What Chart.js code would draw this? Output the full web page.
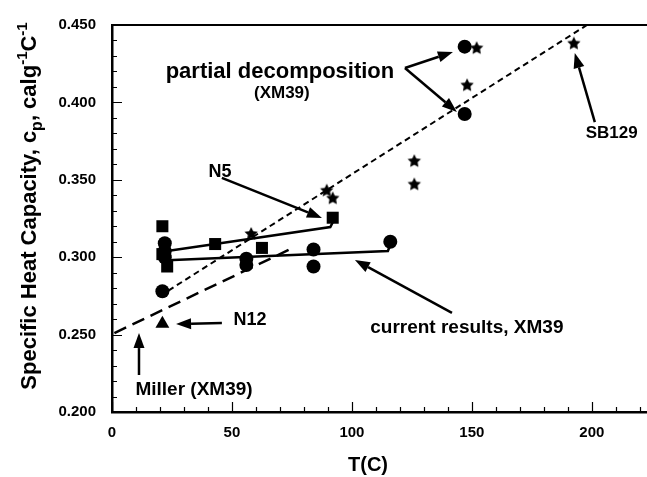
<!DOCTYPE html>
<html>
<head>
<meta charset="utf-8">
<script src="https://cdn.jsdelivr.net/npm/chart.js@4.4.1/dist/chart.umd.min.js"></script>
<style>
  html, body { margin:0; padding:0; background:#fff; }
  canvas { display:block; }
</style>
</head>
<body>
<canvas id="cpChart" width="647" height="477"></canvas>
<script>
// current results, XM39 (circles)
const circleT  = [21, 22, 22, 22, 56, 56, 84, 84, 116, 147, 147];
const circleCp = [0.278, 0.309, 0.304, 0.300, 0.299, 0.295, 0.305, 0.294, 0.310, 0.436, 0.3925];
// N5 (squares)
const squareT  = [21, 21, 23, 43, 62.5, 92];
const squareCp = [0.320, 0.302, 0.294, 0.3085, 0.306, 0.3255];
// stars, incl. SB129
const starT  = [58, 89.5, 92, 126, 126, 148, 152, 192.5];
const starCp = [0.315, 0.343, 0.338, 0.362, 0.347, 0.411, 0.435, 0.438];
// N12 (triangle)
const triT  = [21];
const triCp = [0.257];

// fitted lines
const decompT  = [20, 198];
const decompCp = [0.275, 0.450];
const millerT  = [1, 74];
const millerCp = [0.251, 0.305];
const n5T  = [23, 43, 91, 92.5];
const n5Cp = [0.304, 0.3085, 0.3195, 0.324];
const xm39T  = [23, 115, 116];
const xm39Cp = [0.298, 0.304, 0.308];

// axes
const xTicks = [0, 50, 100, 150, 200];
const yTicks = [0.200, 0.250, 0.300, 0.350, 0.400, 0.450];

const FONT = '"Liberation Sans", Arial, Helvetica, sans-serif';

const pts = (xs, ys) => xs.map((x, i) => ({x: x, y: ys[i]}));

// filled five-point star used as point style
function makeStar(r){
  const c = document.createElement('canvas');
  c.width = c.height = r * 2 + 2;
  const g = c.getContext('2d');
  g.translate(r + 1, r + 1);
  g.beginPath();
  for(let i = 0; i < 10; i++){
    const rr = i % 2 ? r * 0.5 : r;
    const a = -Math.PI / 2 + i * Math.PI / 5;
    g.lineTo(rr * Math.cos(a), rr * Math.sin(a));
  }
  g.closePath();
  g.fillStyle = '#000';
  g.fill();
  return c;
}
const starImg = makeStar(7);

// labels and arrows, in data units
const labels = [
  {text:'partial decomposition', x:70, y:0.4196, font:'bold 22px'},
  {text:'(XM39)', x:70.8, y:0.4061, font:'bold 17px'},
  {text:'SB129', x:208.3, y:0.3802, font:'bold 17px'},
  {text:'N5', x:45, y:0.355, font:'bold 18px'},
  {text:'current results, XM39', x:147.9, y:0.2543, font:'bold 19px'},
  {text:'N12', x:57.5, y:0.2594, font:'bold 18px'},
  {text:'Miller (XM39)', x:34.2, y:0.2142, font:'bold 19px'}
];
const arrows = [
  [122.1, 0.4222, 142.1, 0.4326],
  [122.1, 0.4222, 143.75, 0.3938],
  [201.25, 0.3873, 192.9, 0.4319],
  [45.8, 0.3512, 87.5, 0.3253],
  [141.7, 0.2640, 101.25, 0.2982],
  [45.8, 0.2575, 26.7, 0.2568],
  [11.25, 0.2239, 11.25, 0.2510]
];

const decorPlugin = {
  id:'decor',
  afterDraw(chart){
    const {ctx, chartArea:a, scales:{x, y}} = chart;
    ctx.save();
    ctx.strokeStyle = '#000';
    ctx.fillStyle = '#000';

    // top frame line
    ctx.lineWidth = 2;
    ctx.beginPath();
    ctx.moveTo(a.left, a.top);
    ctx.lineTo(a.right, a.top);
    ctx.stroke();

    // inward ticks
    ctx.lineWidth = 1.2;
    ctx.beginPath();
    for(let v = 0; v <= 220; v += 10){
      const px = Math.round(x.getPixelForValue(v)) + 0.5;
      const len = v % 50 === 0 ? 10 : 5;
      ctx.moveTo(px, a.bottom);
      ctx.lineTo(px, a.bottom - len);
    }
    for(let k = 20; k <= 45; k++){
      const py = Math.round(y.getPixelForValue(k / 100)) + 0.5;
      const len = k % 5 === 0 ? 10 : 5;
      ctx.moveTo(a.left, py);
      ctx.lineTo(a.left + len, py);
    }
    ctx.stroke();

    // arrows
    ctx.lineWidth = 2.5;
    arrows.forEach(([x0, y0, x1, y1]) => {
      const sx = x.getPixelForValue(x0), sy = y.getPixelForValue(y0);
      const ex = x.getPixelForValue(x1), ey = y.getPixelForValue(y1);
      const ang = Math.atan2(ey - sy, ex - sx);
      const hl = 15, hw = 5.5;
      const bx = ex - hl * Math.cos(ang), by = ey - hl * Math.sin(ang);
      ctx.beginPath();
      ctx.moveTo(sx, sy);
      ctx.lineTo(bx, by);
      ctx.stroke();
      ctx.beginPath();
      ctx.moveTo(ex, ey);
      ctx.lineTo(bx + hw * Math.sin(ang), by - hw * Math.cos(ang));
      ctx.lineTo(bx - hw * Math.sin(ang), by + hw * Math.cos(ang));
      ctx.closePath();
      ctx.fill();
    });

    // labels
    ctx.textAlign = 'center';
    ctx.textBaseline = 'middle';
    labels.forEach(l => {
      ctx.font = l.font + ' ' + FONT;
      ctx.fillText(l.text, x.getPixelForValue(l.x), y.getPixelForValue(l.y));
    });

    // x axis title
    ctx.font = 'bold 20px ' + FONT;
    ctx.fillText('T(C)', 368, 465);

    // y axis title with sub/superscripts
    const parts = [
      ['Specific Heat Capacity, c', 22, 0],
      ['p', 16, 6],
      [', calg', 22, 0],
      ['-1', 15, -9],
      ['C', 22, 0],
      ['-1', 15, -9]
    ];
    let total = 0;
    parts.forEach(p => { ctx.font = 'bold ' + p[1] + 'px ' + FONT; total += ctx.measureText(p[0]).width; });
    ctx.translate(36, 206);
    ctx.rotate(-Math.PI / 2);
    ctx.textAlign = 'left';
    ctx.textBaseline = 'alphabetic';
    let cx = -total / 2;
    parts.forEach(p => {
      ctx.font = 'bold ' + p[1] + 'px ' + FONT;
      ctx.fillText(p[0], cx, p[2]);
      cx += ctx.measureText(p[0]).width;
    });
    ctx.restore();
  }
};

const lineSet = (xs, ys, dash, w) => ({
  type:'scatter', data:pts(xs, ys), showLine:true, pointRadius:0,
  borderColor:'#000', borderWidth:w, borderDash:dash, order:2
});
const markSet = (xs, ys, style, r) => ({
  type:'scatter', data:pts(xs, ys), pointStyle:style, pointRadius:r,
  backgroundColor:'#000', borderColor:'#000', borderWidth:0, order:1
});

new Chart(document.getElementById('cpChart').getContext('2d'), {
  type:'scatter',
  data:{
    datasets:[
      lineSet(decompT, decompCp, [6, 4], 2),
      lineSet(millerT, millerCp, [13, 7], 2.5),
      lineSet(n5T, n5Cp, [], 2.5),
      lineSet(xm39T, xm39Cp, [], 2.5),
      markSet(circleT, circleCp, 'circle', 7),
      markSet(squareT, squareCp, 'rect', 8.5),
      markSet(starT, starCp, starImg, 7),
      markSet(triT, triCp, 'triangle', 8)
    ]
  },
  options:{
    responsive:false,
    devicePixelRatio:1,
    animation:false,
    events:[],
    // the plot runs right up to the canvas edge
    layout:{ autoPadding:false, padding:{ top:25, right:0, left:0, bottom:0 } },
    plugins:{ legend:{display:false}, tooltip:{enabled:false} },
    scales:{
      x:{
        type:'linear', min:0, max:223,
        afterBuildTicks: s => { s.ticks = xTicks.map(v => ({value:v})); },
        afterFit: s => { s.height = 65; s.paddingLeft = 0; s.paddingRight = 0; },
        grid:{ display:true, drawOnChartArea:false, drawTicks:false },
        border:{ display:true, color:'#000', width:2.5 },
        ticks:{ color:'#000', padding:12, maxRotation:0, font:{family:FONT, size:15, weight:'bold'} }
      },
      y:{
        type:'linear', min:0.2, max:0.45,
        afterBuildTicks: s => { s.ticks = yTicks.map(v => ({value:v})); },
        afterFit: s => { s.width = 112; s.paddingTop = 0; s.paddingBottom = 0; },
        grid:{ display:true, drawOnChartArea:false, drawTicks:false },
        border:{ display:true, color:'#000', width:2.5 },
        ticks:{ color:'#000', padding:16, callback: v => v.toFixed(3), font:{family:FONT, size:15, weight:'bold'} }
      }
    }
  },
  plugins:[decorPlugin]
});
</script>
</body>
</html>
